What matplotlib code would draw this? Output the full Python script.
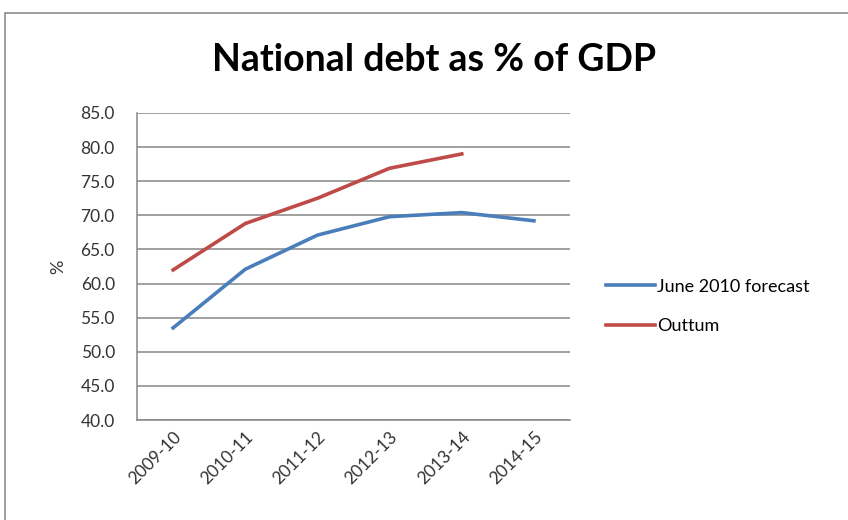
import matplotlib
matplotlib.use("Agg")
import matplotlib.pyplot as plt
from matplotlib.patches import Rectangle

years = ["2009-10", "2010-11", "2011-12", "2012-13", "2013-14", "2014-15"]
forecast = [53.5, 62.1, 67.1, 69.8, 70.4, 69.2]
outturn = [62.0, 68.8, 72.5, 76.9, 79.0]

plt.rcParams["font.family"] = ["Lato", "DejaVu Sans"]

fig = plt.figure(figsize=(8.48, 5.2), dpi=100)
ax = fig.add_axes([0.1616, 0.1923, 0.5106, 0.5904])

# chart frame like the spreadsheet border
fig.patches.append(Rectangle((5 / 848, -0.1), 1.2, (520 - 13) / 520 + 0.1,
                             transform=fig.transFigure, fill=False,
                             edgecolor="#8c8c8c", linewidth=1.2))

x = list(range(len(years)))
ax.plot(x, forecast, color="#4A7EBB", linewidth=2.6, label="June 2010 forecast")
ax.plot(x[:len(outturn)], outturn, color="#BE4B48", linewidth=2.6, label="Outtum")

ax.set_xlim(-0.5, len(years) - 0.5)
ax.set_ylim(40, 85)
ax.set_yticks([40 + 5 * i for i in range(10)])
ax.set_yticklabels([f"{40 + 5 * i:.1f}" for i in range(10)], fontsize=12.5, color="#333333")
ax.set_xticks(x)
ax.set_xticklabels(years, rotation=45, ha="right", rotation_mode="anchor",
                   fontsize=12.5, color="#333333")
ax.tick_params(axis="both", length=0, pad=6)
ax.tick_params(axis="y", pad=16)

ax.grid(axis="y", color="#868686", linewidth=1.1)
ax.set_axisbelow(True)
for side in ["top", "right"]:
    ax.spines[side].set_visible(False)
for side in ["left", "bottom"]:
    ax.spines[side].set_color("#868686")
    ax.spines[side].set_linewidth(1.1)

ax.set_ylabel("%", fontsize=13, labelpad=10, color="#333333")
fig.text(0.512, 0.885, "National debt as % of GDP", ha="center", va="center",
         fontsize=27, fontweight="bold")

ax.legend(loc="center left", bbox_to_anchor=(1.045, 0.37), frameon=False,
          fontsize=13, handlelength=2.7, handletextpad=0.15, labelspacing=1.3)

fig.savefig("out.png", dpi=100)
